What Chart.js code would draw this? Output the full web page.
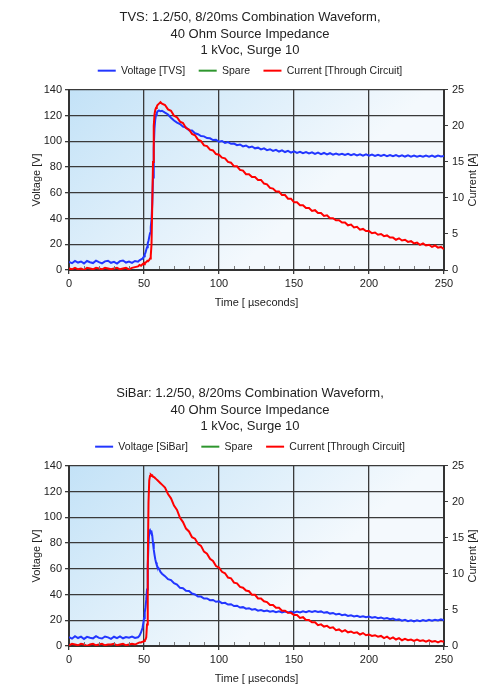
<!DOCTYPE html>
<html>
<head>
<meta charset="utf-8">
<script src="https://cdn.jsdelivr.net/npm/chart.js@4.4.1/dist/chart.umd.min.js"></script>
<style>
  html, body { margin: 0; padding: 0; background: #fff; }
  body { width: 500px; height: 690px; position: relative; overflow: hidden; }
  .wrap { position: absolute; left: 0; width: 500px; height: 314px; }
  #w1 { top: 0; }
  #w2 { top: 376px; }
</style>
</head>
<body>
<div class="wrap" id="w1"><canvas id="c1" width="500" height="314"></canvas></div>
<div class="wrap" id="w2"><canvas id="c2" width="500" height="314"></canvas></div>
<script>
// sample times in microseconds (denser around the surge edge)
const timeUs = [0,2,4,6,8,10,12,14,16,18,20,22,24,26,28,30,32,34,36,38,40,42,44,
  46,47,48,
  49,49.5,50,50.5,51,51.5,52,52.5,53,53.5,54,54.5,55,55.5,56,56.5,57,57.5,58,58.5,59,
  60,61,62,
  64,66,68,70,72,74,76,78,80,82,84,86,88,90,92,94,96,98,100,102,104,106,108,110,
  112,114,116,118,120,122,124,126,128,130,132,134,136,138,140,142,144,146,148,150,
  152,154,156,158,160,162,164,166,168,170,172,174,176,178,180,182,184,186,188,190,
  192,194,196,198,200,202,204,206,208,210,212,214,216,218,220,222,224,226,228,230,
  232,234,236,238,240,242,244,246,248,250];

// TVS chart: voltage [V] and current [A]
const tvsVoltage = [6.2,5.3,7.1,5.8,6.6,5.1,7.0,6.0,5.4,7.3,6.1,5.2,6.7,7.2,5.6,6.3,5.0,6.9,7.4,5.8,6.5,5.5,7.0,
  6.4,7.5,8.2,
  8.8,9.6,10.6,12.2,13.4,15.8,17.6,20.8,22.7,25.8,28.6,33.4,39.0,52.0,72.0,95.0,110.0,117.0,120.5,122.0,123.2,
  124.0,123.4,123.8,
  122.3,120.9,118.4,116.2,114.6,113.5,111.4,110.8,108.6,108.4,106.3,105.6,104.1,103.9,102.6,102.4,101.0,101.2,99.7,100.3,98.8,99.4,98.1,98.3,
  97.0,97.6,96.1,96.8,95.3,96.0,94.6,95.1,93.8,94.6,93.2,93.9,92.6,93.4,92.1,93.0,91.7,92.6,91.3,92.2,
  91.0,91.9,90.8,91.6,90.6,91.5,90.3,91.2,90.1,91.0,89.9,90.8,89.7,90.6,89.6,90.4,89.4,90.3,89.2,90.2,
  89.1,90.0,88.9,89.9,88.8,89.7,88.7,89.6,88.6,89.5,88.5,89.4,88.4,89.3,88.3,89.2,88.2,89.1,88.1,88.9,
  88.0,88.8,88.0,88.9,88.1,89.0,88.0,88.9,88.2,88.6];
const tvsCurrent = [0.2,0.1,0.3,0.1,0.2,0.0,0.3,0.2,0.1,0.3,0.2,0.1,0.3,0.2,0.1,0.2,0.3,0.1,0.2,0.3,0.1,0.3,0.4,
  0.5,0.7,0.6,
  0.8,0.9,0.8,1.0,1.0,1.1,1.2,1.3,1.3,1.4,1.6,2.0,3.5,9.0,15.0,20.0,21.6,22.2,22.5,22.7,22.9,
  23.1,23.3,23.1,
  22.9,22.3,22.1,21.4,21.2,20.6,20.4,19.7,19.5,18.9,18.7,18.1,17.9,17.3,17.2,16.7,16.6,16.1,16.0,15.6,15.5,15.0,14.9,14.4,
  14.4,13.9,13.8,13.3,13.3,12.9,12.9,12.5,12.5,12.0,11.9,11.4,11.3,10.9,10.9,10.4,10.4,9.9,9.9,9.4,
  9.4,9.0,9.0,8.6,8.6,8.2,8.3,7.9,7.9,7.5,7.6,7.2,7.2,6.9,6.9,6.6,6.6,6.2,6.3,5.9,
  6.0,5.6,5.7,5.4,5.4,5.1,5.2,4.9,5.0,4.7,4.8,4.5,4.5,4.2,4.4,4.1,4.2,3.9,4.0,3.7,
  3.8,3.5,3.7,3.4,3.5,3.2,3.4,3.1,3.2,2.9];

// SiBar chart: voltage [V] and current [A]
const sibarVoltage = [6.9,5.7,7.6,6.2,7.3,5.5,7.1,6.4,5.9,7.7,6.3,5.8,7.4,6.7,5.6,7.2,6.1,7.5,6.0,7.0,6.5,7.3,6.2,
  6.8,8.0,10.5,
  14.0,17.5,21.5,26.0,30.0,36.0,44.0,62.0,80.0,89.0,90.0,88.5,88.8,86.0,80.0,75.0,71.0,67.5,65.0,63.0,61.5,
  60.0,57.6,56.2,
  54.3,51.9,51.2,48.9,47.8,45.2,44.9,43.0,42.7,40.8,40.1,38.4,38.4,36.9,37.0,35.6,35.8,34.4,34.7,33.3,33.6,32.2,32.5,31.1,
  31.3,29.9,30.2,29.0,29.4,28.2,28.7,27.5,28.0,27.0,27.6,26.6,27.2,26.3,27.0,26.1,26.8,26.0,26.7,25.9,
  26.7,26.0,26.9,26.2,27.1,26.4,27.2,26.4,26.9,25.8,26.3,25.2,25.7,24.6,25.1,24.0,24.5,23.4,23.9,23.0,
  23.5,22.6,23.1,22.3,22.9,22.0,22.6,21.6,22.2,21.2,21.8,20.8,21.4,20.3,20.8,19.7,20.3,19.3,20.0,19.1,
  19.9,19.2,20.1,19.4,20.3,19.6,20.4,19.8,20.7,20.0];
const sibarCurrent = [0.1,0.3,0.2,0.1,0.3,0.2,0.0,0.2,0.3,0.1,0.2,0.3,0.1,0.2,0.2,0.3,0.1,0.2,0.3,0.1,0.2,0.3,0.2,
  0.4,0.5,0.5,
  0.6,0.6,0.7,0.8,0.9,1.2,3.0,11.0,20.0,23.0,23.6,23.8,23.7,23.7,23.5,23.5,23.4,23.3,23.2,23.1,23.0,
  22.8,22.6,22.4,
  22.0,21.1,20.5,19.5,18.9,17.8,17.2,16.3,15.9,15.1,14.9,14.2,13.9,13.1,12.8,12.1,11.8,11.1,10.9,10.3,10.1,9.5,9.4,8.8,
  8.7,8.2,8.1,7.7,7.6,7.1,7.1,6.6,6.6,6.2,6.1,5.7,5.7,5.3,5.3,4.9,4.9,4.6,4.6,4.3,
  4.3,3.9,4.0,3.6,3.6,3.3,3.3,2.9,3.0,2.7,2.8,2.5,2.6,2.2,2.3,2.0,2.2,1.9,2.0,1.8,
  1.9,1.6,1.8,1.5,1.6,1.4,1.5,1.3,1.4,1.1,1.3,1.0,1.2,0.9,1.1,0.8,1.0,0.8,0.9,0.7,
  0.9,0.7,0.8,0.6,0.8,0.6,0.7,0.5,0.7,0.6];

const xTickLabels = [0, 50, 100, 150, 200, 250];
const FONT = '"Liberation Sans", Arial, sans-serif';
const INK = '#222';
const GRID = '#3a3a3a';

const plotBg = {
  id: 'plotBg',
  // a little extra room under the legend row
  beforeUpdate(chart) {
    const lg = chart.legend;
    if (lg && !lg._padded) {
      const fit = lg.fit;
      lg.fit = function () { fit.call(this); this.height += 4; };
      lg._padded = true;
    }
  },
  beforeDraw(chart) {
    const { ctx, chartArea: a } = chart;
    const g = ctx.createLinearGradient(a.left, a.top, a.left + a.width * 0.45, a.bottom);
    g.addColorStop(0, '#c3e2f7');
    g.addColorStop(1, '#f4f9fd');
    ctx.save();
    ctx.fillStyle = g;
    ctx.fillRect(a.left, a.top, a.width, a.height);
    ctx.restore();
  }
};

// small inner ticks between the labelled x positions + right axis title
const extras = {
  id: 'extras',
  afterDraw(chart) {
    const { ctx, chartArea: a, scales } = chart;
    ctx.save();
    ctx.strokeStyle = '#777';
    ctx.lineWidth = 1;
    scales.x.ticks.forEach(t => {
      if (xTickLabels.includes(t.value)) return;
      const px = Math.round(scales.x.getPixelForValue(t.value)) + 0.5;
      ctx.beginPath();
      ctx.moveTo(px, a.bottom - 1);
      ctx.lineTo(px, a.bottom - 4);
      ctx.stroke();
    });
    ctx.translate(473, (a.top + a.bottom) / 2);
    ctx.rotate(-Math.PI / 2);
    ctx.font = '11px ' + FONT;
    ctx.fillStyle = INK;
    ctx.textAlign = 'center';
    ctx.textBaseline = 'middle';
    ctx.fillText('Current [A]', 0, 0);
    ctx.restore();
  }
};

const pts = arr => timeUs.map((t, i) => ({ x: t, y: arr[i] }));

function makeChart(id, titleLines, voltLabel, volts, amps) {
  return new Chart(document.getElementById(id), {
    type: 'line',
    data: {
      datasets: [
        { label: voltLabel, data: pts(volts), yAxisID: 'y', borderColor: '#2236ff', borderWidth: 2, pointRadius: 0, order: 2 },
        { label: 'Spare', data: [], yAxisID: 'y', borderColor: '#2e962e', borderWidth: 2, pointRadius: 0, order: 3 },
        { label: 'Current [Through Circuit]', data: pts(amps), yAxisID: 'y1', borderColor: '#ff0000', borderWidth: 2, pointRadius: 0, order: 1 }
      ]
    },
    options: {
      responsive: false,
      animation: false,
      layout: { padding: 0 },
      plugins: {
        title: { display: true, text: titleLines, color: INK, font: { family: FONT, size: 13, weight: 'normal', lineHeight: 1.28 }, padding: { top: 9, bottom: -7 } },
        legend: {
          labels: {
            usePointStyle: true, pointStyle: 'line', pointStyleWidth: 18,
            color: INK, font: { family: FONT, size: 10.5 }, padding: 13.5,
            sort: (a, b) => a.datasetIndex - b.datasetIndex
          }
        },
        tooltip: { enabled: false }
      },
      scales: {
        x: {
          type: 'linear', min: 0, max: 250,
          ticks: { stepSize: 10, autoSkip: false, maxRotation: 0, padding: 3, color: INK, font: { family: FONT, size: 11 },
            callback: v => xTickLabels.includes(v) ? v : '' },
          grid: {
            color: c => (c.tick && c.tick.value % 50 === 0) ? GRID : 'rgba(0,0,0,0)',
            tickColor: c => (c.tick && c.tick.value % 50 === 0) ? GRID : 'rgba(0,0,0,0)',
            tickLength: 4, lineWidth: 1.3
          },
          border: { color: '#333', width: 2 },
          title: { display: true, text: 'Time [ µseconds]', color: INK, font: { family: FONT, size: 11 }, padding: { top: 0, bottom: 4 } },
          afterFit: s => { s.height = 44; }
        },
        y: {
          position: 'left', min: 0, max: 140,
          ticks: { stepSize: 20, padding: 3, color: INK, font: { family: FONT, size: 11 } },
          grid: { color: GRID, lineWidth: 1.3, tickLength: 4 },
          border: { color: '#333', width: 2 },
          title: { display: true, text: 'Voltage [V]', color: INK, font: { family: FONT, size: 11 }, padding: { top: 30, bottom: 0 } },
          afterFit: s => { s.width = 69; }
        },
        y1: {
          position: 'right', min: 0, max: 25,
          ticks: { stepSize: 5, padding: 4, color: INK, font: { family: FONT, size: 11 } },
          grid: { drawOnChartArea: false, tickLength: 4, color: GRID },
          border: { color: '#333', width: 2 },
          afterFit: s => { s.width = 56; }
        }
      }
    },
    plugins: [plotBg, extras]
  });
}

makeChart('c1', ['TVS: 1.2/50, 8/20ms Combination Waveform,', '40 Ohm Source Impedance', '1 kVoc, Surge 10'],
  'Voltage [TVS]', tvsVoltage, tvsCurrent);
makeChart('c2', ['SiBar: 1.2/50, 8/20ms Combination Waveform,', '40 Ohm Source Impedance', '1 kVoc, Surge 10'],
  'Voltage [SiBar]', sibarVoltage, sibarCurrent);
</script>
</body>
</html>
